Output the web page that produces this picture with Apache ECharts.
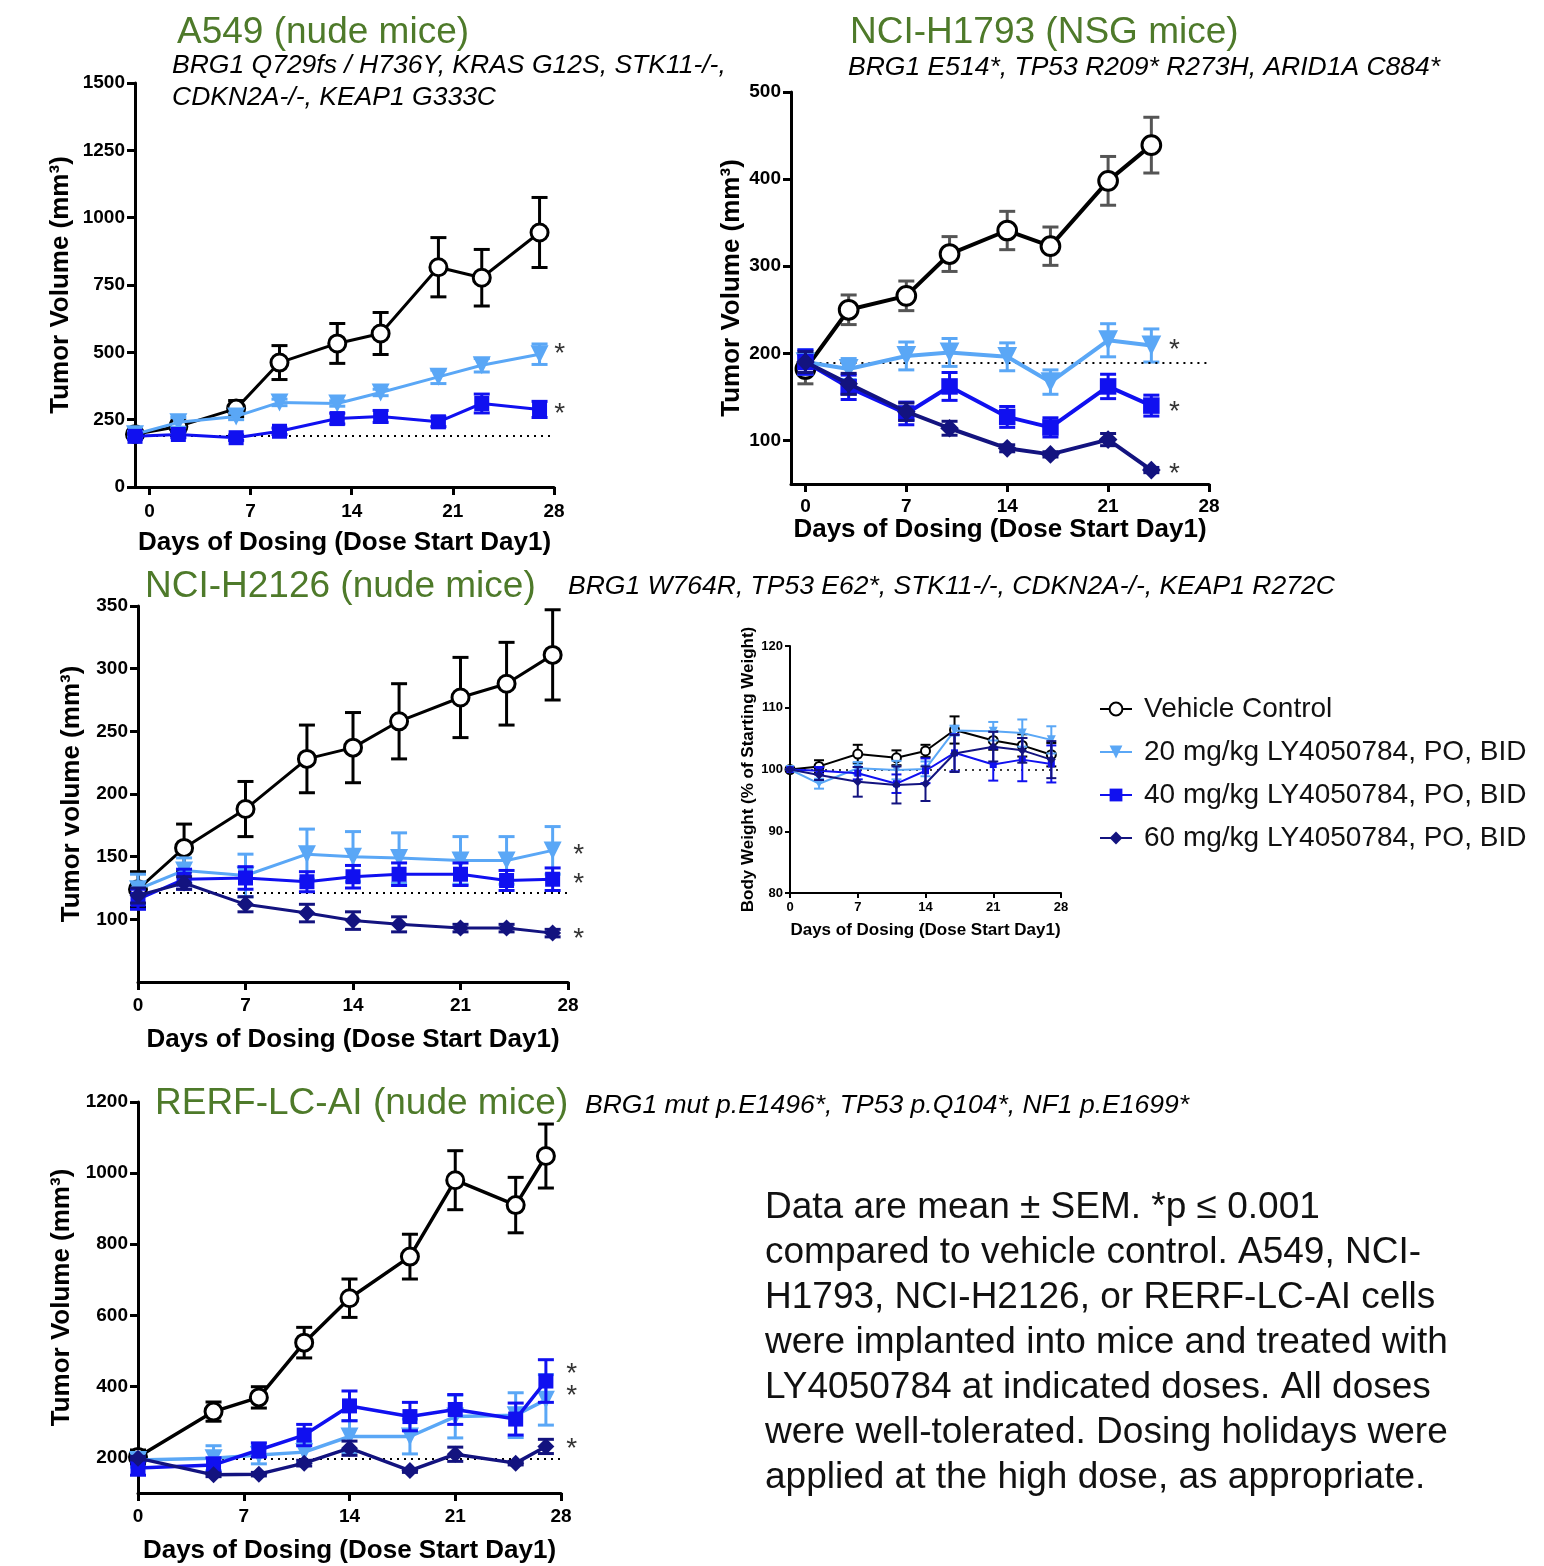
<!DOCTYPE html>
<html>
<head>
<meta charset="utf-8">
<title>LY4050784 xenograft studies</title>
<script src="https://cdn.jsdelivr.net/npm/echarts@6/dist/echarts.min.js"></script>
<style>
  html, body { margin: 0; padding: 0; background: #fff; }
  #chart { width: 1544px; height: 1566px; }
</style>
</head>
<body>
<div id="chart"></div>
<script>
// ---- data ----
const groupNames = [
  'Vehicle Control',
  '20 mg/kg LY4050784, PO, BID',
  '40 mg/kg LY4050784, PO, BID',
  '60 mg/kg LY4050784, PO, BID'
];

// A549 (nude mice)
const a549Days = [-1, 2, 6, 9, 13, 16, 20, 23, 27];
const a549Vehicle = [196, 225, 291, 462, 533, 570, 816, 777, 945];
const a549VehicleSem = [10, 20, 30, 63, 74, 78, 110, 105, 130];
const a549Dose20 = [196, 240, 262, 314, 310, 351, 409, 452, 493];
const a549Dose20Sem = [10, 18, 12, 12, 10, 12, 25, 25, 38];
const a549Dose40 = [188, 195, 183, 207, 254, 262, 242, 310, 288];
const a549Dose40Sem = [10, 12, 10, 12, 20, 22, 18, 35, 30];
const a549Baseline = 192;
const a549Stars = [[28.4, 493], [28.4, 270]];

// NCI-H1793 (NSG mice)
const h1793Days = [0, 3, 7, 10, 14, 17, 21, 24];
const h1793Vehicle = [182, 250, 266, 314, 341, 323, 398, 439];
const h1793VehicleSem = [17, 17, 17, 20, 22, 22, 28, 32];
const h1793Dose20 = [190, 182, 197, 201, 196, 167, 215, 209];
const h1793Dose20Sem = [14, 12, 16, 16, 16, 14, 19, 19];
const h1793Dose40 = [190, 161, 131, 162, 127, 115, 162, 140];
const h1793Dose40Sem = [14, 14, 13, 16, 12, 11, 14, 12];
const h1793Dose60 = [190, 165, 133, 114, 91, 84, 101, 66];
const h1793Dose60Sem = [12, 12, 10, 8, 4, 3, 7, 3];
const h1793Baseline = 189;
const h1793Stars = [[25.6, 204], [25.6, 132], [25.6, 61]];

// NCI-H2126 (nude mice)
const h2126Days = [0, 3, 7, 11, 14, 17, 21, 24, 27];
const h2126Vehicle = [124, 157, 188, 228, 237, 258, 277, 288, 311];
const h2126VehicleSem = [14, 19, 22, 27, 28, 30, 32, 33, 36];
const h2126Dose20 = [124, 139, 135, 152, 150, 149, 147, 147, 155];
const h2126Dose20Sem = [12, 10, 17, 20, 20, 20, 19, 19, 19];
const h2126Dose40 = [116, 132, 133, 130, 134, 136, 136, 131, 132];
const h2126Dose40Sem = [8, 8, 9, 8, 9, 9, 9, 8, 9];
const h2126Dose60 = [119, 129, 112, 105, 99, 96, 93, 93, 89];
const h2126Dose60Sem = [6, 5, 6, 7, 7, 6, 3, 3, 3];
const h2126Baseline = 121;
const h2126Stars = [[28.7, 151], [28.7, 128], [28.7, 84]];

// body weight (% of starting weight)
const bwDays = [0, 3, 7, 11, 14, 17, 21, 24, 27];
const bwVehicle = [100, 100.5, 102.5, 101.9, 103, 106.4, 104.7, 103.9, 102.4];
const bwVehicleSem = [0, 1, 1.5, 1.2, 1, 2.2, 1.5, 1.8, 1.9];
const bwDose20 = [100, 97.7, 100.2, 99.9, 100.1, 106.3, 106.2, 105.9, 104.8];
const bwDose20Sem = [0, 0.8, 1, 1.5, 1.2, 0.8, 1.5, 2.2, 2.2];
const bwDose40 = [100, 99.8, 99.4, 97.7, 99.8, 102.7, 100.8, 101.6, 100.9];
const bwDose40Sem = [0, 0.6, 1, 1.5, 2, 3, 2.6, 3.5, 3];
const bwDose60 = [100, 99.1, 98, 97.5, 97.7, 102.6, 103.7, 103.1, 101.6];
const bwDose60Sem = [0, 0.8, 2.4, 3, 2.8, 3, 2.4, 2, 3];
const bwBaseline = 100;

// RERF-LC-AI (nude mice)
const rerfDays = [0, 5, 8, 11, 14, 18, 21, 25, 27];
const rerfVehicle = [201, 329, 369, 523, 648, 765, 980, 910, 1048];
const rerfVehicleSem = [20, 27, 30, 43, 54, 63, 83, 78, 90];
const rerfDose20 = [193, 198, 207, 215, 259, 259, 315, 319, 362];
const rerfDose20Sem = [20, 35, 25, 30, 45, 49, 60, 63, 71];
const rerfDose40 = [170, 179, 221, 263, 345, 315, 335, 308, 415];
const rerfDose40Sem = [20, 20, 20, 30, 42, 40, 42, 45, 60];
const rerfDose60 = [198, 151, 153, 184, 226, 163, 209, 184, 231];
const rerfDose60Sem = [5, 5, 5, 8, 20, 5, 20, 5, 20];
const rerfBaseline = 195;
const rerfStars = [[28.7, 433], [28.7, 372], [28.7, 223]];

const dayTicks = [0, 7, 14, 21, 28];

// ---- styling ----
const font = '"Liberation Sans", Arial, sans-serif';
const green = '#4e7a2a';
const groupStyles = [
  { color: '#000', symbol: 'circle', size: 17, smallSize: 9, fill: '#fff' },
  { color: '#5aa7f6', symbol: 'triangle', size: 18, smallSize: 9, rotate: 180 },
  { color: '#1010f0', symbol: 'rect', size: 15, smallSize: 7 },
  { color: '#13137f', symbol: 'diamond', size: 17, smallSize: 9 }
];

const grids = [];
const xAxes = [];
const yAxes = [];
const series = [];

function errorBarItem(cap, width, color) {
  return function (params, api) {
    const x = api.value(0);
    const lo = api.coord([x, api.value(1)]);
    const hi = api.coord([x, api.value(2)]);
    const style = { stroke: color, lineWidth: width };
    return {
      type: 'group',
      children: [
        { type: 'line', shape: { x1: lo[0], y1: lo[1], x2: hi[0], y2: hi[1] }, style: style },
        { type: 'line', shape: { x1: lo[0] - cap, y1: lo[1], x2: lo[0] + cap, y2: lo[1] }, style: style },
        { type: 'line', shape: { x1: hi[0] - cap, y1: hi[1], x2: hi[0] + cap, y2: hi[1] }, style: style }
      ]
    };
  };
}

function plain(v) { return String(v); }

function addPanel(cfg) {
  const idx = grids.length;
  const small = !!cfg.small;
  const axisW = small ? 2 : 3;
  grids.push(cfg.grid);
  xAxes.push({
    gridIndex: idx,
    type: 'value',
    min: cfg.xMin,
    max: 28,
    name: 'Days of Dosing (Dose Start Day1)',
    nameLocation: 'middle',
    nameGap: cfg.xNameGap,
    nameTextStyle: { fontFamily: font, fontWeight: 'bold', fontSize: small ? 17 : 26, color: '#000' },
    axisLine: { onZero: false, lineStyle: { color: '#000', width: axisW } },
    axisTick: { length: small ? 5 : 8, lineStyle: { width: axisW, color: '#000' }, customValues: dayTicks },
    axisLabel: { customValues: dayTicks, formatter: plain, fontFamily: font, fontWeight: 'bold', fontSize: small ? 13 : 19, color: '#000', margin: cfg.xLabelMargin || 14 },
    splitLine: { show: false }
  });
  const yAxis = {
    gridIndex: idx,
    type: 'value',
    min: cfg.yMin,
    max: cfg.yMax,
    name: cfg.yName,
    nameLocation: 'middle',
    nameRotate: 90,
    nameGap: cfg.yNameGap,
    nameTextStyle: { fontFamily: font, fontWeight: 'bold', fontSize: small ? 17 : 26, color: '#000' },
    axisLine: { onZero: false, lineStyle: { color: '#000', width: axisW } },
    axisTick: { length: small ? 5 : 8, lineStyle: { width: axisW, color: '#000' } },
    axisLabel: { formatter: plain, fontFamily: font, fontWeight: 'bold', fontSize: small ? 13 : 19, color: '#000', margin: small ? 7 : 10 },
    splitLine: { show: false }
  };
  if (cfg.yTicks) {
    yAxis.axisTick.customValues = cfg.yTicks;
    yAxis.axisLabel.customValues = cfg.yTicks;
  } else {
    yAxis.interval = cfg.yInterval;
  }
  yAxes.push(yAxis);

  const lineW = cfg.lineWidth || (small ? 2 : 3);
  const symScale = cfg.symbolScale || 1;
  cfg.groups.forEach(function (g, gi) {
    const st = groupStyles[g.style];
    const errColor = (gi === 0 && cfg.vehicleErrColor) ? cfg.vehicleErrColor : st.color;
    series.push({
      type: 'custom',
      xAxisIndex: idx,
      yAxisIndex: idx,
      renderItem: errorBarItem(small ? 5 : 8, small ? 2 : 3, errColor),
      encode: { x: 0, y: [1, 2] },
      data: cfg.days.map(function (d, i) { return [d, g.values[i] - g.sem[i], g.values[i] + g.sem[i]]; }),
      z: 2 + gi * 2,
      silent: true
    });
    const s = {
      type: 'line',
      name: groupNames[g.style],
      xAxisIndex: idx,
      yAxisIndex: idx,
      data: cfg.days.map(function (d, i) { return [d, g.values[i]]; }),
      symbol: st.symbol,
      symbolSize: small ? st.smallSize : st.size * symScale,
      symbolRotate: st.rotate || 0,
      showAllSymbol: true,
      clip: false,
      lineStyle: { color: st.color, width: lineW },
      itemStyle: { color: st.fill || st.color, borderColor: st.color, borderWidth: st.fill ? (small ? 2 : 3) : 0 },
      z: 3 + gi * 2
    };
    if (gi === 0) {
      s.markLine = {
        silent: true,
        symbol: 'none',
        label: { show: false },
        lineStyle: { type: [2, 5], color: '#000', width: small ? 1.5 : 2 },
        data: [[{ coord: [cfg.days[0], cfg.baseline] }, { coord: [28, cfg.baseline] }]]
      };
    }
    series.push(s);
  });
  if (cfg.stars) {
    series.push({
      type: 'scatter',
      xAxisIndex: idx,
      yAxisIndex: idx,
      data: cfg.stars,
      symbolSize: 1,
      clip: false,
      itemStyle: { color: 'rgba(0,0,0,0)' },
      label: { show: true, position: 'inside', formatter: '*', fontFamily: font, fontSize: 28, color: '#000' },
      silent: true,
      z: 20
    });
  }
}

addPanel({
  grid: { left: 135, top: 83, width: 419, height: 404 },
  xMin: -1, yMin: 0, yMax: 1500, yInterval: 250,
  yName: 'Tumor Volume (mm³)', yNameGap: 61, xNameGap: 43, xLabelMargin: 15,
  days: a549Days, baseline: a549Baseline, stars: a549Stars,
  groups: [
    { style: 0, values: a549Vehicle, sem: a549VehicleSem },
    { style: 1, values: a549Dose20, sem: a549Dose20Sem },
    { style: 2, values: a549Dose40, sem: a549Dose40Sem }
  ]
});

addPanel({
  grid: { left: 791, top: 92, width: 418, height: 392 },
  xMin: -1, yMin: 50, yMax: 500, yTicks: [100, 200, 300, 400, 500],
  yName: 'Tumor Volume (mm³)', yNameGap: 46, xNameGap: 32, xLabelMargin: 13,
  lineWidth: 4, symbolScale: 1.1,
  days: h1793Days, baseline: h1793Baseline, stars: h1793Stars, vehicleErrColor: '#555',
  groups: [
    { style: 0, values: h1793Vehicle, sem: h1793VehicleSem },
    { style: 1, values: h1793Dose20, sem: h1793Dose20Sem },
    { style: 2, values: h1793Dose40, sem: h1793Dose40Sem },
    { style: 3, values: h1793Dose60, sem: h1793Dose60Sem }
  ]
});

addPanel({
  grid: { left: 138, top: 606, width: 430, height: 376 },
  xMin: 0, yMin: 50, yMax: 350, yTicks: [100, 150, 200, 250, 300, 350],
  yName: 'Tumor volume (mm³)', yNameGap: 53, xNameGap: 45,
  days: h2126Days, baseline: h2126Baseline, stars: h2126Stars,
  groups: [
    { style: 0, values: h2126Vehicle, sem: h2126VehicleSem },
    { style: 1, values: h2126Dose20, sem: h2126Dose20Sem },
    { style: 2, values: h2126Dose40, sem: h2126Dose40Sem },
    { style: 3, values: h2126Dose60, sem: h2126Dose60Sem }
  ]
});

addPanel({
  grid: { left: 790, top: 646, width: 271, height: 247 },
  small: true,
  xMin: 0, yMin: 80, yMax: 120, yInterval: 10,
  yName: 'Body Weight (% of Starting Weight)', yNameGap: 33, xNameGap: 29, xLabelMargin: 8,
  days: bwDays, baseline: bwBaseline,
  groups: [
    { style: 0, values: bwVehicle, sem: bwVehicleSem },
    { style: 1, values: bwDose20, sem: bwDose20Sem },
    { style: 2, values: bwDose40, sem: bwDose40Sem },
    { style: 3, values: bwDose60, sem: bwDose60Sem }
  ]
});

addPanel({
  grid: { left: 138, top: 1102, width: 423, height: 391 },
  xMin: 0, yMin: 100, yMax: 1200, yTicks: [200, 400, 600, 800, 1000, 1200],
  yName: 'Tumor Volume (mm³)', yNameGap: 63, xNameGap: 45,
  lineWidth: 3.5,
  days: rerfDays, baseline: rerfBaseline, stars: rerfStars,
  groups: [
    { style: 0, values: rerfVehicle, sem: rerfVehicleSem },
    { style: 1, values: rerfDose20, sem: rerfDose20Sem },
    { style: 2, values: rerfDose40, sem: rerfDose40Sem },
    { style: 3, values: rerfDose60, sem: rerfDose60Sem }
  ]
});

function title(text, x, y) {
  return { type: 'text', x: x, y: y, style: { text: text, font: '37px ' + font, fill: green, verticalAlign: 'middle' } };
}
function note(text, x, y) {
  return { type: 'text', x: x, y: y, style: { text: text, font: 'italic 26.5px ' + font, fill: '#000', verticalAlign: 'middle' } };
}

const paragraph = [
  'Data are mean ± SEM. *p ≤ 0.001',
  'compared to vehicle control. A549, NCI-',
  'H1793, NCI-H2126, or RERF-LC-AI cells',
  'were implanted into mice and treated with',
  'LY4050784 at indicated doses. All doses',
  'were well-tolerated. Dosing holidays were',
  'applied at the high dose, as appropriate.'
].join('\n');

const chart = echarts.init(document.getElementById('chart'), null, { renderer: 'canvas' });
chart.setOption({
  animation: false,
  backgroundColor: '#fff',
  grid: grids,
  xAxis: xAxes,
  yAxis: yAxes,
  series: series,
  legend: {
    data: groupNames,
    orient: 'vertical',
    left: 1099,
    top: 695,
    padding: 0,
    itemWidth: 32,
    itemHeight: 16,
    itemGap: 15,
    selectedMode: false,
    textStyle: { fontFamily: font, fontSize: 28, color: '#111', padding: [0, 0, 0, 7] }
  },
  graphic: [
    title('A549 (nude mice)', 177, 33),
    note('BRG1 Q729fs / H736Y, KRAS G12S, STK11-/-,', 172, 66),
    note('CDKN2A-/-, KEAP1 G333C', 172, 98),
    title('NCI-H1793 (NSG mice)', 850, 33),
    note('BRG1 E514*, TP53 R209* R273H, ARID1A C884*', 848, 68),
    title('NCI-H2126 (nude mice)', 145, 587),
    note('BRG1 W764R, TP53 E62*, STK11-/-, CDKN2A-/-, KEAP1 R272C', 568, 587),
    title('RERF-LC-AI (nude mice)', 155, 1104),
    note('BRG1 mut p.E1496*, TP53 p.Q104*, NF1 p.E1699*', 585, 1106),
    { type: 'text', x: 765, y: 1185, style: { text: paragraph, font: '37px ' + font, fill: '#111', lineHeight: 45 } }
  ]
});
</script>
</body>
</html>
